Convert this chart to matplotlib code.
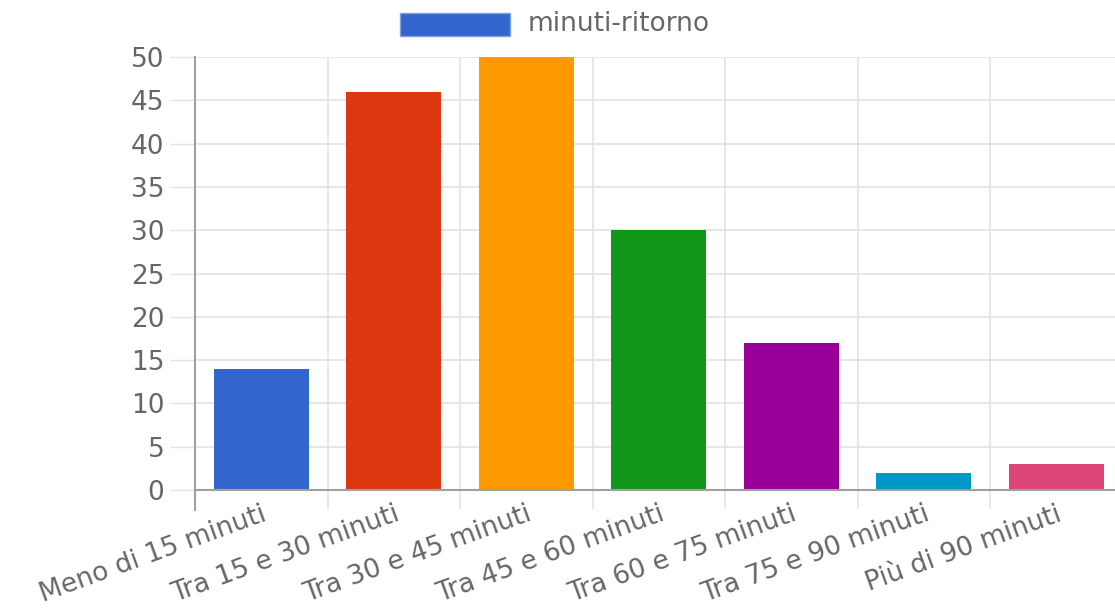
import matplotlib.pyplot as plt
from matplotlib.patches import Rectangle

plt.rcParams['font.family'] = ['DejaVu Sans']

# Data
categories = ['Meno di 15 minuti', 'Tra 15 e 30 minuti', 'Tra 30 e 45 minuti',
              'Tra 45 e 60 minuti', 'Tra 60 e 75 minuti', 'Tra 75 e 90 minuti',
              'Più di 90 minuti']
values = [14, 46, 50, 30, 17, 2, 3]
bar_colors = ['#3366CC', '#DC3912', '#FF9900', '#109618', '#990099', '#0099C6', '#DD4477']
series_label = 'minuti-ritorno'
y_ticks = [0, 5, 10, 15, 20, 25, 30, 35, 40, 45, 50]

text_color = '#666666'
grid_color = '#e3e3e3'
axis_color = '#a0a0a0'

fig = plt.figure(figsize=(11.15, 6.10), dpi=100)
# plot area runs a bit past the right edge, like the reference crop
ax = fig.add_axes([195 / 1115, 1 - 490 / 610, 927.5 / 1115, 433 / 610])

x = list(range(len(categories)))
ax.bar(x, values, width=0.72, color=bar_colors, zorder=3)

ax.set_xlim(-0.5, len(categories) - 0.5)
ax.set_ylim(0, 50)

# y axis
ax.set_yticks(y_ticks)
ax.set_yticklabels([str(v) for v in y_ticks])
ax.tick_params(axis='y', length=18, width=1, color=grid_color, pad=4,
               labelsize=19, labelcolor=text_color)
ax.yaxis.grid(True, color=grid_color, linewidth=1.2, zorder=0)

# x axis: labels at centres, grid lines at category boundaries
ax.set_xticks(x)
ax.set_xticklabels(categories, rotation=20, ha='right', rotation_mode='anchor')
ax.tick_params(axis='x', which='major', length=0, pad=8,
               labelsize=19, labelcolor=text_color)
ax.set_xticks([i + 0.5 for i in x[:-1]], minor=True)
ax.tick_params(axis='x', which='minor', length=14, width=1.2, color=grid_color)
ax.xaxis.grid(True, which='minor', color=grid_color, linewidth=1.2, zorder=0)

for side in ['top', 'right']:
    ax.spines[side].set_visible(False)
for side in ['left', 'bottom']:
    ax.spines[side].set_color(axis_color)
    ax.spines[side].set_linewidth(1.5)
ax.spines['left'].set_bounds(-2.3, 50)
ax.spines['left'].set_zorder(4)
ax.spines['bottom'].set_zorder(4)
ax.spines['left'].set_clip_on(False)

# legend at the top
fig.add_artist(Rectangle((400 / 1115, 1 - 36 / 610), 110 / 1115, 23 / 610,
                         transform=fig.transFigure, facecolor=bar_colors[0],
                         edgecolor='#7fa0e0', linewidth=1))
fig.text(528 / 1115, 1 - 24 / 610, series_label, fontsize=19,
         color=text_color, va='center', ha='left')

fig.savefig('out.png', dpi=100)
